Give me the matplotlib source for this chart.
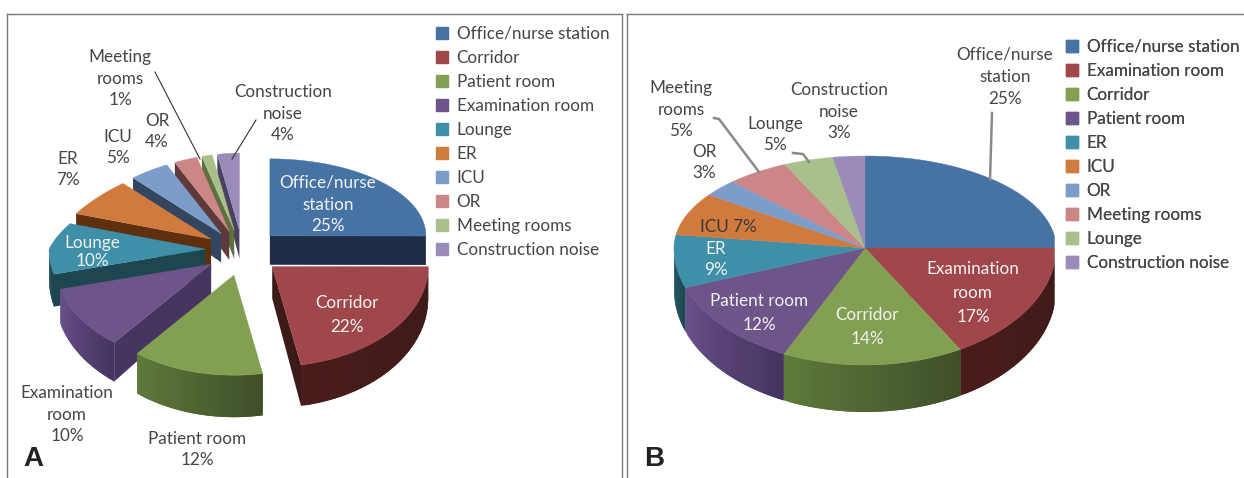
import numpy as np
import matplotlib
matplotlib.use("Agg")
import matplotlib.pyplot as plt
from matplotlib.lines import Line2D

plt.rcParams['font.family'] = ['Lato', 'DejaVu Sans']

# ---------- data ----------
names_a = ["Office/nurse station", "Corridor", "Patient room", "Examination room", "Lounge",
           "ER", "ICU", "OR", "Meeting rooms", "Construction noise"]
pct_a = [25, 22, 12, 10, 10, 7, 5, 4, 1, 4]
drawn_a = [25, 22, 13.6, 10.3, 9.4, 7.5, 4.7, 3.0, 1.4, 3.0]

names_b = ["Office/nurse station", "Examination room", "Corridor", "Patient room", "ER",
           "ICU", "OR", "Meeting rooms", "Lounge", "Construction noise"]
pct_b = [25, 17, 14, 12, 9, 7, 3, 5, 5, 3]
drawn_b = [25, 16.7, 15.3, 12.5, 7.8, 7.5, 3.0, 5.3, 4.2, 2.7]

# ---------- styles ----------
top_cols = ["#4672a4", "#a0474c", "#83a052", "#6d5489", "#3f8fa8",
            "#d17a3e", "#7c9cc9", "#cc8686", "#a9c08c", "#9a8bb8"]
wall_cols = [("#22304c", "#1f2c46"), ("#4a1c1c", "#3c1a18"), ("#5f7a3c", "#3f4f28"),
             ("#6a528c", "#453560"), ("#2c6c80", "#1e4650"),
             ("#6a3a14", "#5e3010"), ("#34465f", "#34465f"), ("#5e3a3a", "#5e3a3a"),
             ("#5e7040", "#5e7040"), ("#4a4060", "#4a4060")]
TXT = "#454545"
FS = 12.3


def lerp(c1, c2, t):
    a = np.array(matplotlib.colors.to_rgb(c1))
    b = np.array(matplotlib.colors.to_rgb(c2))
    return tuple(a + (b - a) * t)


fig = plt.figure(figsize=(12.44, 4.78), dpi=100, facecolor="white")
ax = fig.add_axes([0, 0, 1, 1])
ax.set_xlim(0, 1244)
ax.set_ylim(478, 0)
ax.axis("off")


def pie3d(shares, cx, cy, rx, ry_top, ry_bot, d_y0, d0, d_y1, d1, xclip,
          ex=0, ey_top=0, ey_bot=0, shrink=0.0, wall=wall_cols, top=top_cols):
    shares = np.array(shares, float)
    edges = 90 - 360 * np.concatenate([[0], np.cumsum(shares) / shares.sum()])

    def depth(y):
        return d0 + (d1 - d0) * (y - d_y0) / (d_y1 - d_y0)

    items = []
    for i in range(len(shares)):
        t1, t2 = edges[i], edges[i + 1]
        m = np.radians((t1 + t2) / 2)
        ax0 = cx + ex * np.cos(m)
        ay0 = cy - np.sin(m) * (ey_top if np.sin(m) > 0 else ey_bot)
        items.append((ay0, i, t1, t2, ax0))
    if ex == 0:
        items.sort(key=lambda q: q[1])
    else:
        items.sort(key=lambda q: q[0])

    def pt(ax0, ay0, deg):
        r = np.radians(deg)
        s, c = np.sin(r), np.cos(r)
        f = 1 - shrink * s if (s > 0 and c < 0) else 1.0
        return ax0 + rx * f * c, ay0 - s * (ry_top if s > 0 else ry_bot)

    for ay0, i, t1, t2, ax0 in items:
        # radial cut faces
        if ex:
            for deg, vis in ((t1, np.cos(np.radians(t1)) < 0), (t2, np.cos(np.radians(t2)) > 0)):
                if vis:
                    x, y = pt(ax0, ay0, deg)
                    xs = np.minimum([ax0, x, x, ax0], xclip)
                    ys = [ay0, y, y + depth(y), ay0 + depth(ay0)]
                    ax.fill(xs, ys, color=wall[i][1], lw=0, zorder=1)
        # outer wall: overlapping strips, each covered by the next
        a, b = t2, t1
        lo = np.arange(a, b, 1.5).tolist() + [b]
        for k in range(len(lo) - 1):
            u = lo[k]
            v = lo[min(k + 2, len(lo) - 1)]
            mid = (lo[k] + lo[k + 1]) / 2
            if np.sin(np.radians(mid)) < 0:
                vv = min(v, 0.0) if u < 0 else v
                x1, y1 = pt(ax0, ay0, u)
                x2, y2 = pt(ax0, ay0, vv)
                frac = (mid - a) / (b - a)
                ax.fill(np.minimum([x1, x2, x2, x1], xclip),
                        [y1, y2, y2 + depth(y2), y1 + depth(y1)],
                        color=lerp(wall[i][0], wall[i][1], frac), lw=0, zorder=1)
        # top surface
        th = np.linspace(t1, t2, 80)
        P = np.array([pt(ax0, ay0, d) for d in th])
        ax.fill(np.minimum(np.r_[ax0, P[:, 0]], xclip), np.r_[ay0, P[:, 1]],
                color=top[i], lw=0.3, zorder=1)


# Panel A wedges
pie3d(drawn_a, 243, 250, 156, 77, 100, 237, 29, 365, 41, 434.5,
      ex=38, ey_top=20, ey_bot=26, shrink=0.25)
# Panel B wedges
pie3d(drawn_b, 865, 248, 191, 92, 117, 250, 42, 365, 47, 1054.5)


def lab(x, y, s, c=TXT, step=21.5):
    lines = s.split("\n")
    for i, line in enumerate(lines):
        ax.text(x, y + (i - (len(lines) - 1) / 2) * step, line, ha="center",
                va="center_baseline", fontsize=FS, color=c, zorder=5)


W = "#f2f2f2"
# Panel A labels
lab(120, 77, f"Meeting\nrooms\n{pct_a[8]}%")
lab(283, 112, f"Construction\nnoise\n{pct_a[9]}%")
lab(157, 130, f"OR\n{pct_a[7]}%")
lab(118, 146, f"ICU\n{pct_a[6]}%")
lab(68, 168, f"ER\n{pct_a[5]}%")
lab(328, 203, f"Office/nurse\nstation\n{pct_a[0]}%", W)
lab(347, 313, f"Corridor\n{pct_a[1]}%", W, 24)
lab(92, 250, f"Lounge\n{pct_a[4]}%", W, 18)
lab(67, 413, f"Examination\nroom\n{pct_a[3]}%")
lab(197, 448, f"Patient room\n{pct_a[2]}%")

# Panel B labels
lab(1005, 75, f"Office/nurse\nstation\n{pct_b[0]}%", step=22.5)
lab(681, 108, f"Meeting\nrooms\n{pct_b[7]}%")
lab(839, 110, f"Construction\nnoise\n{pct_b[9]}%")
lab(775, 133, f"Lounge\n{pct_b[8]}%")
lab(704, 161, f"OR\n{pct_b[6]}%")
lab(728, 225, f"ICU {pct_b[5]}%", "#3a3a3a")
lab(716, 258, f"ER\n{pct_b[4]}%", W)
lab(759, 311, f"Patient room\n{pct_b[3]}%", W, 24)
lab(867, 326, f"Corridor\n{pct_b[2]}%", W, 24)
lab(973, 291, f"Examination\nroom\n{pct_b[1]}%", W, 24)

# Leader lines
ax.plot([155, 200], [72, 159], color="#333333", lw=0.8, zorder=4)
ax.plot([256, 232], [120, 159], color="#333333", lw=0.8, zorder=4)
ax.plot([992, 990], [113, 180], color="#8a8a8a", lw=1.8, zorder=4)
ax.plot([714, 719, 759], [118, 119, 172], color="#8a8a8a", lw=1.8, zorder=4)
ax.plot([793, 803, 809], [153, 154, 162], color="#8a8a8a", lw=1.8, zorder=4)


def legend(names, cols, x, y):
    handles = [Line2D([], [], ls="", marker="s", ms=8.5, color=c, label=n) for n, c in zip(names, cols)]
    leg = ax.legend(handles=handles, loc="upper left", frameon=False,
                    bbox_to_anchor=(x / 1244, 1 - y / 478), bbox_transform=fig.transFigure,
                    fontsize=FS, labelcolor=TXT, labelspacing=0.47, handlelength=1.0,
                    handletextpad=0.38, borderpad=0, borderaxespad=0)
    ax.add_artist(leg)


legend(names_a, top_cols, 433, 25.5)
legend(names_b, top_cols, 1063, 38.5)

# Panel letters
ax.text(23, 459, "A", fontsize=20, fontweight="bold", family="Liberation Sans", color="#222222", va="center")
ax.text(644, 459, "B", fontsize=20, fontweight="bold", family="Liberation Sans", color="#222222", va="center")

# Frames
FR = "#777777"
ax.plot([7, 7], [478, 14], color=FR, lw=1, zorder=6)
ax.plot([7, 622], [14, 14], color=FR, lw=1, zorder=6)
ax.plot([622, 622], [14, 478], color=FR, lw=1, zorder=6)
ax.plot([627, 627], [478, 14], color=FR, lw=1, zorder=6)
ax.plot([627, 1244], [14, 14], color=FR, lw=1, zorder=6)

fig.savefig("out.png", dpi=100)
